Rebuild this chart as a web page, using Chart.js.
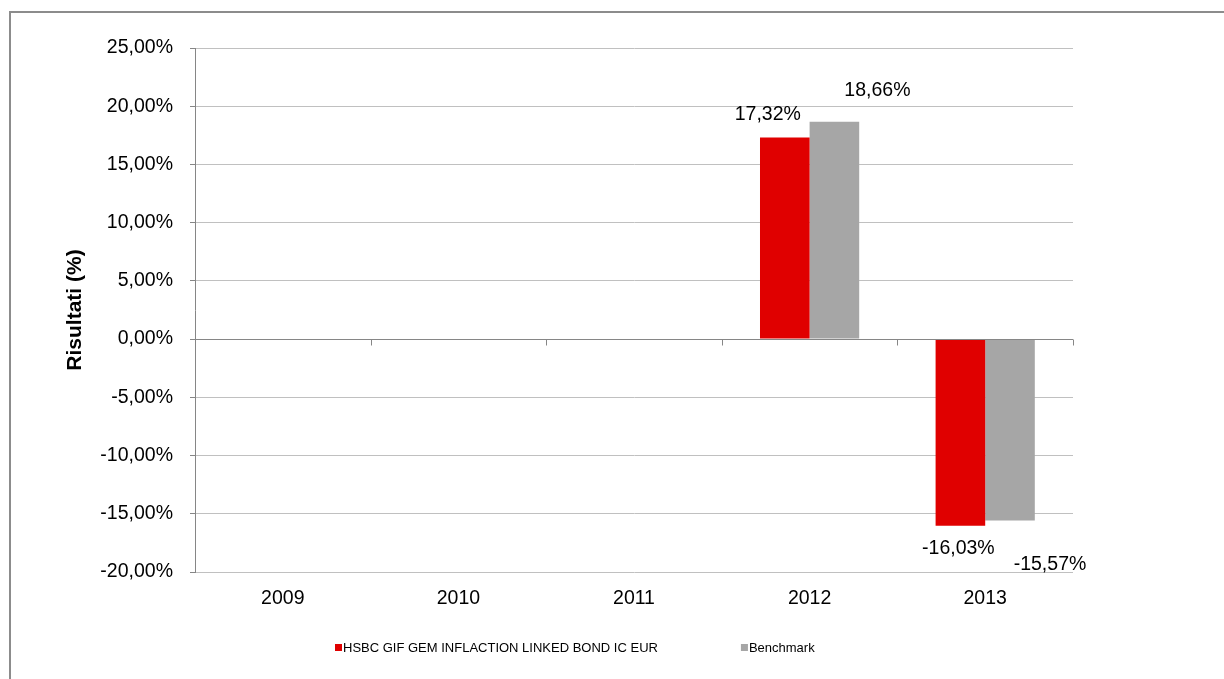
<!DOCTYPE html>
<html>
<head>
<meta charset="utf-8">
<script src="https://cdn.jsdelivr.net/npm/chart.js@4"></script>
<style>
  html, body { margin: 0; padding: 0; background: #fff; }
  #wrap { width: 1224px; height: 679px; }
</style>
</head>
<body>
<div id="wrap"><canvas id="chartRisultati" width="1224" height="679"></canvas></div>
<script>
const anni = ["2009", "2010", "2011", "2012", "2013"];
const fondo = [null, null, null, 17.32, -16.03];
const benchmark = [null, null, null, 18.66, -15.57];
const nomeFondo = "HSBC GIF GEM INFLACTION LINKED BOND IC EUR";
const nomeBenchmark = "Benchmark";
const yMin = -20, yMax = 25, yStep = 5;

// spostamenti delle etichette (come nel grafico Excel)
const offsetFondo = [null, null, null, [-17, -23], [-2, 23]];
const offsetBenchmark = [null, null, null, [43, -31], [40, 44]];

const FONT = "'Liberation Sans', Arial, sans-serif";
const fmt = v => v.toFixed(2).replace(".", ",") + "%";

const cornice = {
  id: "cornice",
  beforeDraw(chart) {
    const ctx = chart.ctx;
    ctx.save();
    ctx.strokeStyle = "#8c8c8c";
    ctx.lineWidth = 2;
    ctx.strokeRect(10, 12, 1240, 700);
    ctx.restore();
  },
  afterDatasetsDraw(chart) {
    const ctx = chart.ctx;
    const x = chart.scales.x, y = chart.scales.y;
    const y0 = Math.round(y.getPixelForValue(0)) + 0.5;
    const passo = x.getPixelForValue(1) - x.getPixelForValue(0);
    ctx.save();
    ctx.strokeStyle = "#868686";
    ctx.lineWidth = 1;
    ctx.beginPath();
    ctx.moveTo(chart.chartArea.left, y0);
    ctx.lineTo(chart.chartArea.right, y0);
    for (let i = 0; i <= anni.length; i++) {
      const xp = Math.round(x.getPixelForValue(0) - passo / 2 + i * passo) + 0.5;
      ctx.moveTo(xp, y0);
      ctx.lineTo(xp, y0 + 6);
    }
    ctx.stroke();

    // etichette dei valori
    ctx.fillStyle = "#000";
    ctx.font = "19.5px " + FONT;
    ctx.textAlign = "center";
    ctx.textBaseline = "middle";
    const offs = [offsetFondo, offsetBenchmark];
    chart.data.datasets.forEach((ds, di) => {
      const meta = chart.getDatasetMeta(di);
      ds.data.forEach((v, i) => {
        if (v === null) return;
        const bar = meta.data[i];
        const o = offs[di][i];
        ctx.fillText(fmt(v), bar.x + o[0], bar.y + o[1]);
      });
    });

    // legenda
    ctx.font = "13px " + FONT;
    ctx.textAlign = "left";
    const ly = 648;
    let lx = 335;
    chart.data.datasets.forEach(ds => {
      ctx.fillStyle = ds.backgroundColor;
      ctx.fillRect(lx, ly - 4, 7, 7);
      ctx.fillStyle = "#000";
      ctx.fillText(ds.label, lx + 8, ly);
      lx += 8 + ctx.measureText(ds.label).width + 83;
    });
    ctx.restore();
  }
};

const ctx = document.getElementById("chartRisultati").getContext("2d");
const grafico = new Chart(ctx, {
  type: "bar",
  data: {
    labels: anni,
    datasets: [
      { label: nomeFondo, data: fondo, backgroundColor: "#e00000" },
      { label: nomeBenchmark, data: benchmark, backgroundColor: "#a6a6a6" }
    ]
  },
  options: {
    responsive: false,
    animation: false,
    categoryPercentage: 0.565,
    barPercentage: 1.0,
    layout: { padding: { top: 48, right: 151, left: 0, bottom: 0 } },
    scales: {
      x: {
        grid: { display: false },
        border: { display: false },
        ticks: { color: "#000", font: { family: FONT, size: 19.5 }, padding: 7, maxRotation: 0 },
        afterFit: s => { s.height = 107; }
      },
      y: {
        min: yMin,
        max: yMax,
        ticks: {
          stepSize: yStep,
          color: "#000",
          font: { family: FONT, size: 19.5 },
          padding: 17,
          callback: v => fmt(v)
        },
        grid: { color: "#c0c0c0", tickLength: 5, tickColor: "#868686" },
        border: { color: "#868686" },
        title: {
          display: true,
          text: "Risultati (%)",
          color: "#000",
          font: { family: FONT, size: 21, weight: "bold" },
          padding: { top: 63, bottom: 0 }
        },
        afterFit: s => { s.width = 195; }
      }
    },
    plugins: {
      legend: { display: false },
      tooltip: { enabled: false }
    }
  },
  plugins: [cornice]
});
</script>
</body>
</html>
